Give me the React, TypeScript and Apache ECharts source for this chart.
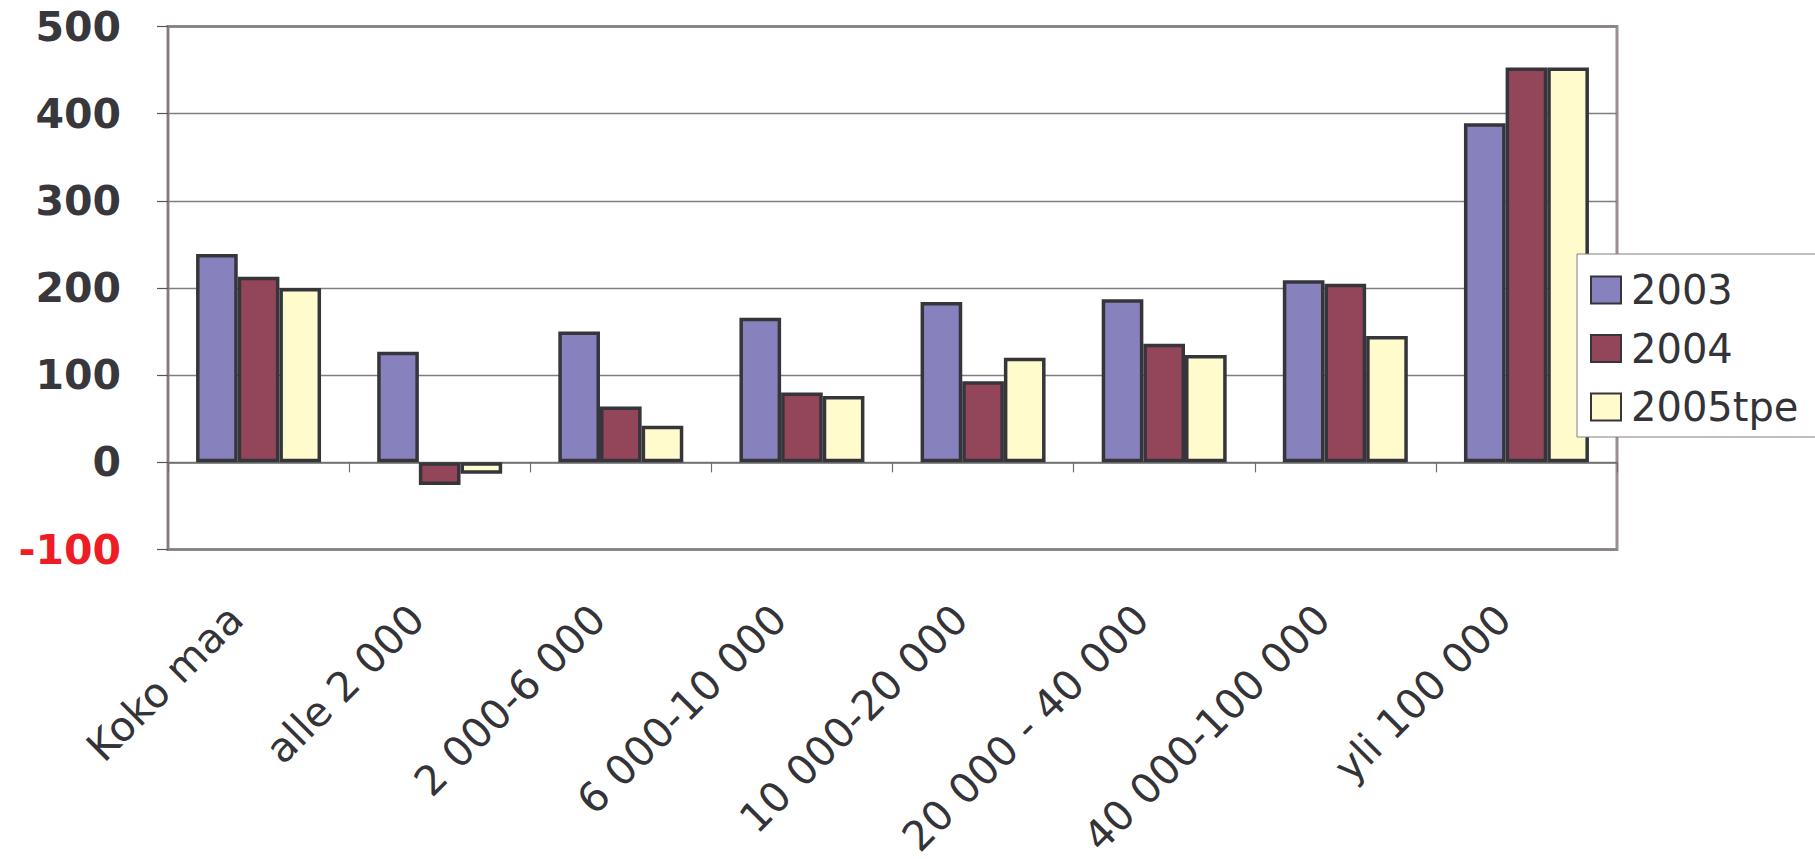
import React, { useEffect, useRef } from "react";
import * as echarts from "echarts";

const categories = [
  "Koko maa",
  "alle 2 000",
  "2 000-6 000",
  "6 000-10 000",
  "10 000-20 000",
  "20 000 - 40 000",
  "40 000-100 000",
  "yli 100 000",
];
const seriesNames = ["2003", "2004", "2005tpe"];
const values2003 = [239, 127, 150, 166, 184, 187, 209, 389];
const values2004 = [213, -26, 64, 80, 93, 136, 205, 453];
const values2005 = [200, -13, 42, 76, 120, 123, 145, 453];
const yTicks = { min: -100, max: 500, interval: 100 };

const colors = ["#8781BD", "#934559", "#FFFBCC"];
const FONT = "DejaVu Sans";

export default function App() {
  const ref = useRef<HTMLDivElement>(null);
  useEffect(() => {
    if (!ref.current) return;
    const chart = echarts.init(ref.current, null, { renderer: "svg" });
    const allValues = [values2003, values2004, values2005];
    chart.setOption({
      animation: false,
      backgroundColor: "#ffffff",
      grid: {
        left: 168,
        top: 26.5,
        width: 1449,
        height: 523,
        containLabel: false,
        outerBoundsMode: "none",
        show: true,
        borderColor: "#9a8e8e",
        borderWidth: 3,
        backgroundColor: "transparent",
      },
      legend: {
        data: seriesNames,
        orient: "vertical",
        left: 1577,
        top: 254,
        padding: [16, 18, 10, 13],
        itemGap: 18.5,
        itemWidth: 30,
        itemHeight: 27,
        icon: "rect",
        backgroundColor: "#ffffff",
        borderColor: "#808080",
        borderWidth: 1,
        textStyle: {
          fontFamily: FONT,
          fontSize: 40,
          lineHeight: 40,
          color: "#333338",
          padding: [0, 0, 0, 5],
        },
      },
      xAxis: [
        {
          type: "category",
          data: categories,
          position: "bottom",
          axisLine: {
            show: true,
            onZero: true,
            lineStyle: { color: "#6e6e6e", width: 1.5 },
          },
          axisTick: {
            show: true,
            length: 10,
            lineStyle: { color: "#6e6e6e", width: 1.2 },
          },
          axisLabel: { show: false },
          splitLine: { show: false },
        },
        {
          type: "category",
          data: categories,
          position: "bottom",
          axisLine: { show: false, onZero: false },
          axisTick: { show: false },
          splitLine: { show: false },
          axisLabel: {
            show: true,
            rotate: 45,
            margin: 40,
            padding: [0, 32, 0, 0],
            fontFamily: FONT,
            fontSize: 41,
            color: "#333338",
            interval: 0,
          },
        },
      ],
      yAxis: {
        type: "value",
        min: yTicks.min,
        max: yTicks.max,
        interval: yTicks.interval,
        axisLine: { show: true, lineStyle: { color: "#857979", width: 2 } },
        axisTick: {
          show: true,
          length: 11,
          lineStyle: { color: "#555555", width: 1.2 },
        },
        splitLine: {
          show: true,
          lineStyle: { color: "#7f7f7f", width: 1.3 },
        },
        axisLabel: {
          margin: 47,
          fontFamily: FONT,
          fontWeight: "bold",
          fontSize: 41,
          color: (v: number) => (v < 0 ? "#ee1c25" : "#38373c"),
        },
      },
      series: seriesNames.map((name, i) => ({
        name,
        type: "bar",
        xAxisIndex: 0,
        data: allValues[i],
        barGap: "0%",
        barCategoryGap: "31%",
        itemStyle: {
          color: colors[i],
          borderColor: "#36353b",
          borderWidth: 3.5,
        },
      })),
    });
    return () => chart.dispose();
  }, []);
  return (
    <div
      ref={ref}
      style={{ position: "fixed", left: 0, top: 0, width: 1815, height: 859 }}
    />
  );
}
